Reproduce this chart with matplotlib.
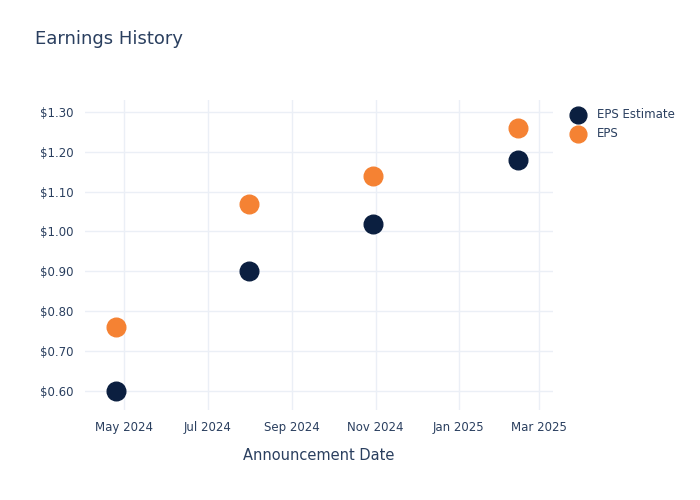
import matplotlib
matplotlib.use("Agg")
import matplotlib.pyplot as plt
import matplotlib.dates as mdates
import numpy as np

DATES = np.array(["2024-04-25", "2024-07-31", "2024-10-30", "2025-02-13"], dtype="datetime64[D]")
EPS_ESTIMATE = [0.60, 0.90, 1.02, 1.18]
EPS_ACTUAL = [0.76, 1.07, 1.14, 1.26]
Y_TICKS = [0.60, 0.70, 0.80, 0.90, 1.00, 1.10, 1.20, 1.30]

TEXT = "#2a3f5f"
GRID = "#ebeff6"

fig = plt.figure(figsize=(7, 5), dpi=100)
ax = fig.add_axes([0.121, 0.18, 0.669, 0.62])

x = DATES.astype("datetime64[D]").astype(object)
ax.scatter(x, EPS_ESTIMATE, s=180, color="#0b1f40", label="EPS Estimate", zorder=3)
ax.scatter(x, EPS_ACTUAL, s=180, color="#f58233", label="EPS", zorder=3)

ax.set_xlim(np.datetime64("2024-04-02").astype(object), np.datetime64("2025-03-11").astype(object))
ax.set_ylim(0.552, 1.33)
ax.set_yticks(Y_TICKS)
ax.set_yticklabels([f"${v:.2f}" for v in Y_TICKS])
ax.xaxis.set_major_locator(mdates.MonthLocator(bymonth=[1, 3, 5, 7, 9, 11]))
ax.xaxis.set_major_formatter(mdates.DateFormatter("%b %Y"))

ax.grid(True, color=GRID, linewidth=1)
ax.set_axisbelow(True)
for s in ax.spines.values():
    s.set_visible(False)
ax.tick_params(length=0, labelsize=8.5, colors=TEXT, pad=8)

ax.set_xlabel("Announcement Date", fontsize=10.5, color=TEXT, labelpad=10)
fig.text(0.05, 0.912, "Earnings History", fontsize=13, color=TEXT)

ax.legend(loc="upper left", bbox_to_anchor=(1.01, 1.0), frameon=False,
          fontsize=8.5, labelcolor=TEXT, handletextpad=0.6, borderpad=0.2,
          labelspacing=0.5, markerscale=0.9)

fig.savefig("out.png", dpi=100)
